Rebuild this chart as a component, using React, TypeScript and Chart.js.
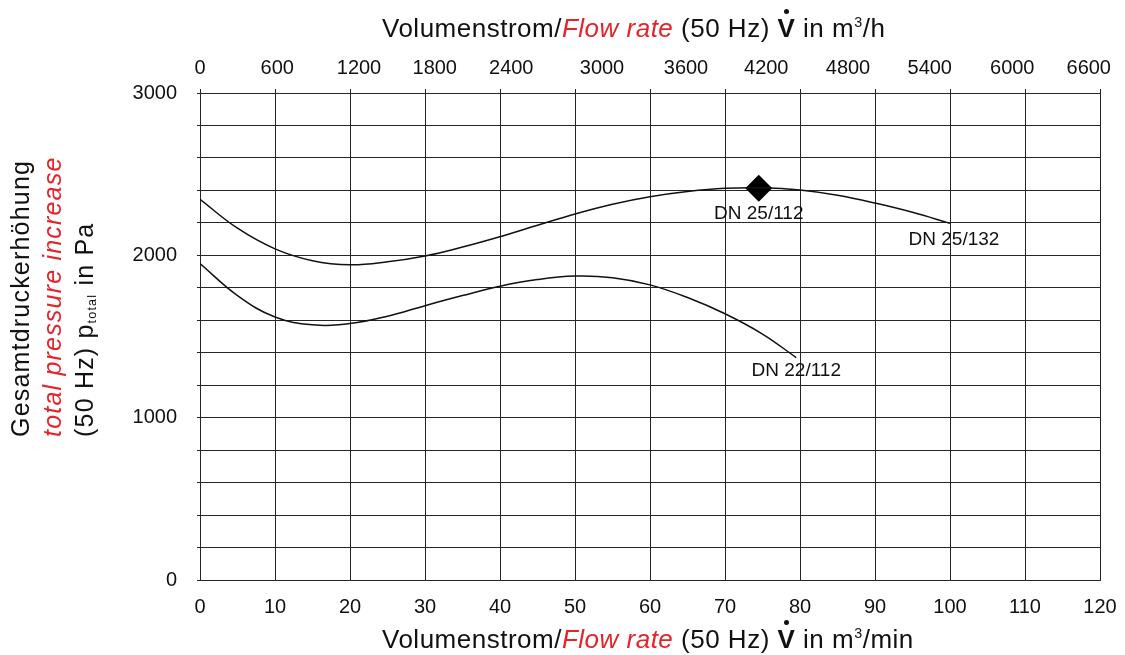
import React, { useEffect, useRef } from "react";
import { Chart, registerables } from "chart.js";

Chart.register(...registerables);

// Kennlinie DN 25/132 (upper curve), m³/min -> Pa
const curve132X = [0, 5, 10, 15, 20, 25, 30, 35, 40, 45, 50, 55, 60, 65, 70, 75, 80, 85, 90, 95, 100];
const curve132Y = [2345, 2167, 2040, 1967, 1942, 1960, 1996, 2051, 2115, 2185, 2255, 2315, 2361, 2393, 2413, 2416, 2402, 2370, 2322, 2265, 2197];

// Kennlinie DN 22/112 (lower curve)
const curve112X = [0, 5, 10, 15, 20, 25, 30, 35, 40, 45, 50, 55, 60, 65, 70, 75, 79.5];
const curve112Y = [1950, 1752, 1620, 1572, 1580, 1625, 1690, 1752, 1810, 1851, 1872, 1862, 1818, 1740, 1640, 1515, 1370];

// Betriebspunkt DN 25/112
const pointX = [74.5];
const pointY = [2413];

const curveNames = ["DN 25/132", "DN 22/112"];
const pointName = "DN 25/112";

const yTickLabels = [0, 1000, 2000, 3000];
const topTickLabels = ["0", "600", "1200", "1800", "2400", "3000", "3600", "4200", "4800", "5400", "6000", "6600"];
// where the m³/h labels sit on the m³/min scale
const topTickPos = [0, 10.3, 21.2, 31.3, 41.5, 53.6, 64.8, 75.5, 86.4, 97.3, 108.3, 118.5];

const RED = "#e4232b";
const FONT = "'Liberation Sans', Arial, sans-serif";

const toPoints = (xs: number[], ys: number[]) => xs.map((x, i) => ({ x, y: ys[i] }));

const topTicksPlugin = {
  id: "topTicks",
  afterDraw(chart: any) {
    const { ctx, chartArea } = chart;
    const xs = chart.scales.x;
    ctx.save();
    ctx.strokeStyle = "#222";
    ctx.lineWidth = 1;
    ctx.beginPath();
    xs.ticks.forEach((t: any) => {
      const px = Math.round(xs.getPixelForValue(t.value)) + 0.5;
      ctx.moveTo(px, chartArea.top - 4);
      ctx.lineTo(px, chartArea.top);
    });
    ctx.moveTo(chartArea.left - 3, Math.round(chartArea.top) + 0.5);
    ctx.lineTo(chartArea.left, Math.round(chartArea.top) + 0.5);
    ctx.stroke();
    ctx.restore();
  },
};

const curveLabelPlugin = {
  id: "curveLabels",
  afterDatasetsDraw(chart: any) {
    const { ctx } = chart;
    ctx.save();
    ctx.font = `19px ${FONT}`;
    ctx.fillStyle = "#111";
    ctx.textAlign = "center";
    ctx.textBaseline = "middle";
    const end = (i: number) => {
      const d = chart.getDatasetMeta(i).data;
      return d[d.length - 1];
    };
    const a = end(0);
    ctx.fillText(curveNames[0], a.x + 4, a.y + 16);
    const b = end(1);
    ctx.fillText(curveNames[1], b.x, b.y + 13);
    const p = end(2);
    ctx.fillText(pointName, p.x, p.y + 25);
    ctx.restore();
  },
};

const VDot: React.FC = () => (
  <span style={{ position: "relative", display: "inline-block", fontWeight: 700 }}>
    V
    <span
      style={{
        position: "absolute",
        left: "50%",
        top: -6,
        width: 5,
        height: 5,
        marginLeft: -2.5,
        borderRadius: "50%",
        background: "#111",
      }}
    />
  </span>
);

const FlowTitle: React.FC<{ unit: React.ReactNode; top: number }> = ({ unit, top }) => (
  <div
    style={{
      position: "absolute",
      left: 382,
      top,
      fontSize: 26,
      letterSpacing: 0.5,
      lineHeight: 1,
      whiteSpace: "nowrap",
      color: "#111",
    }}
  >
    Volumenstrom/<span style={{ color: RED, fontStyle: "italic" }}>Flow rate</span> (50 Hz) <VDot /> in {unit}
  </div>
);

const noSidePadding = (s: any) => {
  s.paddingLeft = 0;
  s.paddingRight = 0;
};

const App: React.FC = () => {
  const chartRef = useRef<HTMLCanvasElement>(null);

  useEffect(() => {
    const ctx = chartRef.current;
    if (!ctx) return;

    const gridColor = "#262626";

    const chart = new Chart(ctx, {
      type: "line",
      data: {
        datasets: [
          {
            label: curveNames[0],
            data: toPoints(curve132X, curve132Y),
            borderColor: "#111",
            borderWidth: 1.5,
            pointRadius: 0,
            tension: 0.4,
            fill: false,
          },
          {
            label: curveNames[1],
            data: toPoints(curve112X, curve112Y),
            borderColor: "#111",
            borderWidth: 1.5,
            pointRadius: 0,
            tension: 0.4,
            fill: false,
          },
          {
            label: pointName,
            data: toPoints(pointX, pointY),
            showLine: false,
            pointStyle: "rectRot",
            pointRadius: 13.5,
            pointBackgroundColor: "#000",
            pointBorderColor: "#000",
            pointBorderWidth: 0,
          },
        ],
      },
      options: {
        animation: false,
        responsive: false,
        layout: { padding: { left: 0, top: 0, right: 25, bottom: 0 } },
        plugins: {
          legend: { display: false },
          tooltip: { enabled: false },
          title: { display: false },
        },
        scales: {
          x: {
            type: "linear",
            position: "bottom",
            min: 0,
            max: 120,
            afterFit: (s: any) => {
              s.height = 75;
              noSidePadding(s);
            },
            ticks: {
              stepSize: 10,
              color: "#111",
              font: { family: FONT, size: 20 },
              padding: 15,
              maxRotation: 0,
              autoSkip: false,
            },
            grid: { color: gridColor, lineWidth: 1, drawTicks: false },
            border: { display: true, color: gridColor },
          },
          x2: {
            type: "linear",
            position: "top",
            min: 0,
            max: 120,
            afterFit: (s: any) => {
              s.height = 93;
              noSidePadding(s);
            },
            afterBuildTicks: (s: any) => {
              s.ticks = topTickPos.map((v) => ({ value: v }));
            },
            ticks: {
              color: "#111",
              font: { family: FONT, size: 20 },
              padding: 13,
              maxRotation: 0,
              autoSkip: false,
              callback: (_v: any, i: number) => topTickLabels[i],
            },
            grid: { display: false, drawTicks: false },
            border: { display: false },
          },
          y: {
            min: 0,
            max: 3000,
            afterFit: (s: any) => {
              s.width = 200;
              s.paddingTop = 0;
              s.paddingBottom = 0;
            },
            ticks: {
              stepSize: 200,
              color: "#111",
              font: { family: FONT, size: 20 },
              padding: 20,
              autoSkip: false,
              callback: (v: any) => (yTickLabels.includes(Number(v)) ? String(v) : ""),
            },
            grid: { color: gridColor, lineWidth: 1, drawTicks: true, tickLength: 3 },
            border: { display: true, color: gridColor },
          },
        },
      },
      plugins: [topTicksPlugin, curveLabelPlugin],
    });

    return () => {
      chart.destroy();
    };
  }, []);

  return (
    <div
      style={{
        position: "absolute",
        left: 0,
        top: 0,
        width: 1125,
        height: 655,
        background: "#fff",
        fontFamily: FONT,
        overflow: "hidden",
      }}
    >
      <canvas
        ref={chartRef}
        width={1125}
        height={655}
        style={{ position: "absolute", left: 0, top: 0, display: "block" }}
      />
      <FlowTitle
        top={15}
        unit={
          <>
            m<sup style={{ fontSize: "0.55em", verticalAlign: "0.7em" }}>3</sup>/h
          </>
        }
      />
      <FlowTitle
        top={626}
        unit={
          <>
            m<sup style={{ fontSize: "0.55em", verticalAlign: "0.7em" }}>3</sup>/min
          </>
        }
      />
      <div
        style={{
          position: "absolute",
          left: 4,
          top: 437,
          transformOrigin: "0 0",
          transform: "rotate(-90deg)",
          fontSize: 25,
          letterSpacing: 1.2,
          lineHeight: "32px",
          whiteSpace: "nowrap",
          color: "#111",
          textAlign: "left",
        }}
      >
        <div>Gesamtdruckerhöhung</div>
        <div style={{ color: RED, fontStyle: "italic" }}>total pressure increase</div>
        <div>
          (50 Hz) p<sub style={{ fontSize: "0.5em", verticalAlign: "-0.25em" }}>total</sub> in Pa
        </div>
      </div>
    </div>
  );
};

export default App;
